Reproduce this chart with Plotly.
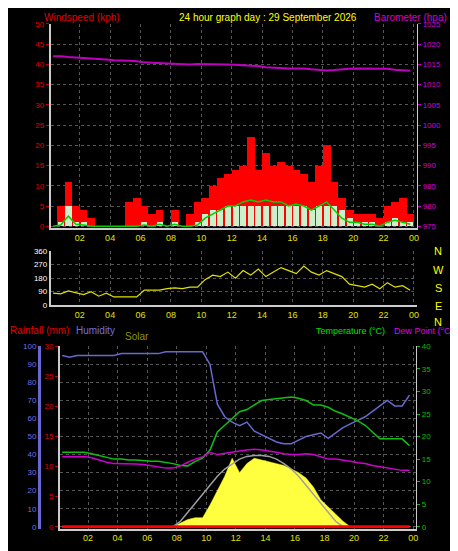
import plotly.graph_objects as go

T = [i*0.5+0.25 for i in range(48)]  # half-hour slots
gust = [0,5,11,5,4,2,0,0,0,0,6,7,5,3,4,0,4,0,3,6,7,10,12,13,14,15,22,14,18,15,16,15,14,13,11,15,20,11,7,4,3,3,3,2,5,6,7,3]
wspd = [0,1,5,1,1,0,0,0,0,0,0,0,1,0,1,0,1,0,0,1,3,4,4,5,5,5,5,5,5,5,5,5,5,5,4,5,5,5,4,2,1,1,1,0,1,2,1,1]
avgw = [0,0.3,2.5,0.5,0.3,0,0,0,0,0,0,0,0.3,0,0.5,0,0.5,0,0,0.3,2,3,4,5,5,6,6.5,6,6.5,6,6,5,5.5,5,4,5,6,4,2,1,1,0.5,0.5,0,1,1.5,1,0.5]
baro = [1017,1017,1016.8,1016.7,1016.6,1016.5,1016.4,1016.2,1016,1016,1015.9,1015.8,1015.5,1015.4,1015.3,1015.2,1015.1,1015,1015,1015.1,1015.1,1015.1,1015,1015,1014.9,1014.8,1014.7,1014.6,1014.3,1014.2,1014,1014,1014,1014,1013.8,1013.6,1013.5,1013.6,1013.8,1013.9,1014,1014,1014,1014,1013.9,1013.7,1013.5,1013.4]
wdir = [80,75,95,85,70,90,60,80,55,55,55,55,100,100,100,110,115,110,120,120,170,200,190,220,180,230,200,240,190,220,250,230,210,260,220,200,230,210,190,140,130,120,140,110,150,120,130,100]
hum = [95,94,95,95,95,95,95,95,96,96,96,96,96,96,97,97,97,97,97,97,90,68,61,58,56,58,53,51,49,47,46,46,48,50,51,52,49,52,55,57,59,61,64,67,70,67,67,73]
temp = [16.5,16.5,16.5,16.5,16.2,15.8,15.3,15.0,15.0,14.8,14.8,14.6,14.5,14.5,14.3,14.0,13.6,13.5,14.5,15.2,17,21,22.5,24,25.5,26,27,28,28.2,28.4,28.6,28.8,28.5,28,27,27,26.5,25.6,25,24.2,23.5,22.5,21,19.5,19.5,19.5,19.5,18]
dew = [15.5,15.5,15.6,15.6,15.3,14.8,14.3,14.0,14.0,13.9,13.9,13.8,13.5,13.2,13.0,13.0,13.5,14.3,15,15.5,16.5,16,16.3,16.5,16.8,17,17.2,17,16.8,16.5,16.2,16,16,16.2,16,15.5,15,15,14.8,14.5,14.2,14,13.6,13.3,13,12.8,12.5,12.5]
solar = [0,0,0,0,0,0,0,0,0,0,0,0,0,0,0,0,2,4,5,5,12,20,28,38,30,35,38,37,36,35,34,32,30,27,22,15,11,7,3,0,0,0,0,0,0,0,0,0]
smax = [0,0,0,0,0,0,0,0,0,0,0,0,0,0,0,0,3,8,13,18,23,28,32,35,37.5,39,39.5,39.5,39,37.5,35,32,28,23,18,13,8,3,0,0,0,0,0,0,0,0,0,0]
rain = [0]*48
hour_ticks = [2,4,6,8,10,12,14,16,18,20,22,24]
hour_labels = ["02","04","06","08","10","12","14","16","18","20","22","00"]

fig = go.Figure()
fig.add_bar(x=T, y=gust, marker=dict(color="#ff0000", line_width=0), width=0.5, xaxis="x", yaxis="y")
fig.add_bar(x=T, y=wspd, marker=dict(color="#ccf0cc", line_width=0), width=0.4, xaxis="x", yaxis="y")
fig.add_scatter(x=T, y=avgw, mode="lines", line=dict(color="#00d000", width=1.5), xaxis="x", yaxis="y")
fig.add_scatter(x=T, y=baro, mode="lines", line=dict(color="#c000c0", width=2), xaxis="x", yaxis="y2")
fig.add_scatter(x=T, y=wdir, mode="lines", line=dict(color="#e0e000", width=1.2), xaxis="x2", yaxis="y3")
fig.add_scatter(x=T, y=solar, mode="lines", fill="tozeroy", line=dict(color="#ffff00", width=0.5), fillcolor="#ffff40", xaxis="x3", yaxis="y4")
fig.add_scatter(x=T, y=smax, mode="lines", line=dict(color="#a0a0a0", width=1.5), xaxis="x3", yaxis="y4")
fig.add_scatter(x=T, y=hum, mode="lines", line=dict(color="#6868d0", width=1.5), xaxis="x3", yaxis="y4")
fig.add_scatter(x=T, y=temp, mode="lines", line=dict(color="#10c010", width=1.5), xaxis="x3", yaxis="y6")
fig.add_scatter(x=T, y=dew, mode="lines", line=dict(color="#d000d0", width=1.5), xaxis="x3", yaxis="y6")
fig.add_scatter(x=T, y=rain, mode="lines", line=dict(color="#ff0000", width=3), xaxis="x3", yaxis="y5")

grid = dict(showgrid=True, gridcolor="#555", griddash="dot", gridwidth=1, zeroline=False)
xcommon = dict(tickvals=hour_ticks, ticktext=hour_labels, tickfont=dict(color="#e0e000", size=9), showline=True, linecolor="#ccc", linewidth=2, ticks="", **grid)
fig.update_layout(
    width=458, height=551, paper_bgcolor="black", plot_bgcolor="black", showlegend=False, bargap=0, barmode="overlay",
    margin=dict(l=0, r=0, t=0, b=0), font=dict(family="Liberation Sans"),
    xaxis=dict(domain=[0.094, 0.897], range=[0.1, 24.2], anchor="y", **xcommon),
    yaxis=dict(domain=[0.601, 0.978], range=[-0.5, 50], dtick=5, tickfont=dict(color="#e00000", size=8), showline=True, linecolor="#ccc", linewidth=2, ticks="outside", tickcolor="#c00000", ticklen=3, **grid),
    yaxis2=dict(overlaying="y", side="right", range=[974.5, 1025], dtick=5, tickfont=dict(color="#d000d0", size=8), showgrid=False, zeroline=False, ticks="outside", tickcolor="#c000c0", ticklen=3, showline=True, linecolor="#ccc"),
    xaxis2=dict(domain=[0.094, 0.897], range=[0.1, 24.2], anchor="y3", **xcommon),
    yaxis3=dict(domain=[0.459, 0.559], range=[0, 360], tickvals=[0, 90, 180, 270, 360], tickfont=dict(color="white", size=8), showline=True, linecolor="#ccc", linewidth=2, **grid),
    xaxis3=dict(domain=[0.114, 0.895], range=[0.1, 24.2], anchor="y4", **xcommon),
    yaxis4=dict(domain=[0.047, 0.383], range=[-1, 100], dtick=10, tickfont=dict(color="#7070e0", size=8), anchor="free", position=0.068, showline=True, linecolor="#6868d0", linewidth=3, **grid),
    yaxis5=dict(overlaying="y4", range=[-0.3, 30], dtick=5, tickfont=dict(color="#e00000", size=8), anchor="x3", showline=True, linecolor="#ccc", linewidth=2, showgrid=False, zeroline=False, ticks="outside", tickcolor="#c00000", ticklen=3),
    yaxis6=dict(overlaying="y4", side="right", anchor="x3", range=[-0.4, 40], dtick=5, tickfont=dict(color="#00c000", size=8), showgrid=False, zeroline=False, ticks="outside", tickcolor="#00c000", ticklen=3, showline=True, linecolor="#ccc"),
)
ann = [
    (34, 6, "Windspeed (kph)", "#e00000", "left", 10),
    (170, 6, "24 hour graph day : 29 September 2026", "#ffff00", "left", 10),
    (366, 6, "Barometer (hpa)", "#d000d0", "left", 10),
    (0, 324, "Rainfall (mm)", "#e00000", "left", 10),
    (66, 324, "Humidity", "#7070e0", "left", 10),
    (116, 330, "Solar", "#909000", "left", 10),
    (307, 324, "Temperature (°C)", "#00e000", "left", 9),
    (386, 324, "Dew Point (°C)", "#e000e0", "left", 9),
]
for x, y, t, c, a, s in ann:
    fig.add_annotation(x=x/458, y=1-y/551, xref="paper", yref="paper", text=t, showarrow=False,
                       font=dict(color=c, size=s), xanchor=a, yanchor="middle")
for y, t in [(243, "N"), (262, "W"), (281, "S"), (299, "E"), (315, "N")]:
    fig.add_annotation(x=432/458, y=1-y/551, xref="paper", yref="paper", text=t, showarrow=False,
                       font=dict(color="#ffff00", size=11), xanchor="center", yanchor="middle")
fig.write_html("out.html")
